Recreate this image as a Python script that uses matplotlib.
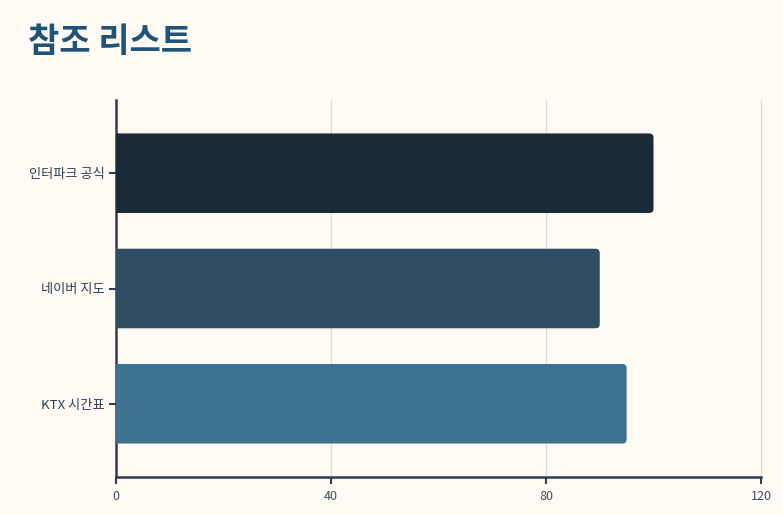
import matplotlib
matplotlib.use("Agg")
import matplotlib.pyplot as plt
from matplotlib.patches import FancyBboxPatch

plt.rcParams['font.family'] = ['Noto Sans CJK KR', 'DejaVu Sans']

categories = ["인터파크 공식", "네이버 지도", "KTX 시간표"]
values = [100, 90, 95]
colors = ["#1b2a37", "#2e4d64", "#3f7290"]
xticks = [0, 40, 80, 120]

bg = "#fffbf4"
axis_color = "#2c3e50"

fig = plt.figure(figsize=(7.83, 5.15), dpi=100, facecolor=bg)
ax = fig.add_axes([116/783, 1-477/515, 645/783, 377/515])
ax.set_facecolor(bg)

ypos = list(range(len(categories)))
bars = ax.barh(ypos, values, height=0.69, color=colors, zorder=3)
ax.set_xlim(0, 120)
ax.set_ylim(2.635, -0.635)

# rounded corners
px_per_x = 645/120
px_per_y = 377/3.27
aspect = px_per_x/px_per_y
for b in bars:
    x0, y0 = b.get_x(), b.get_y()
    w, h = b.get_width(), b.get_height()
    fb = FancyBboxPatch((x0 - 2, y0), w + 2, h,
                        boxstyle="round,pad=0,rounding_size=0.8",
                        mutation_aspect=aspect,
                        facecolor=b.get_facecolor(), edgecolor="none", zorder=3)
    b.set_visible(False)
    ax.add_patch(fb)

ax.set_yticks(ypos)
ax.set_yticklabels(categories)
ax.set_xticks(xticks)
ax.set_xticklabels([str(t) for t in xticks])
ax.grid(axis='x', color='#d9d9d9', linewidth=0.9, zorder=0)
for gl in ax.get_xgridlines():
    gl.set_clip_on(False)
ax.set_axisbelow(True)

for s in ['top', 'right']:
    ax.spines[s].set_visible(False)
for s in ['left', 'bottom']:
    ax.spines[s].set_color(axis_color)
    ax.spines[s].set_linewidth(1.8)
ax.tick_params(axis='both', colors=axis_color, length=5, width=1.5)
ax.tick_params(axis='x', labelcolor='#3d4f5f', pad=4, labelsize=9)
ax.tick_params(axis='y', labelcolor='#2c3e50', pad=3, labelsize=9.5)

fig.text(28/783, 1-24/515, "참조 리스트", fontsize=24.5, fontweight='bold',
         color='#1f5478', ha='left', va='top')

fig.savefig("out.png", dpi=100, facecolor=bg)
